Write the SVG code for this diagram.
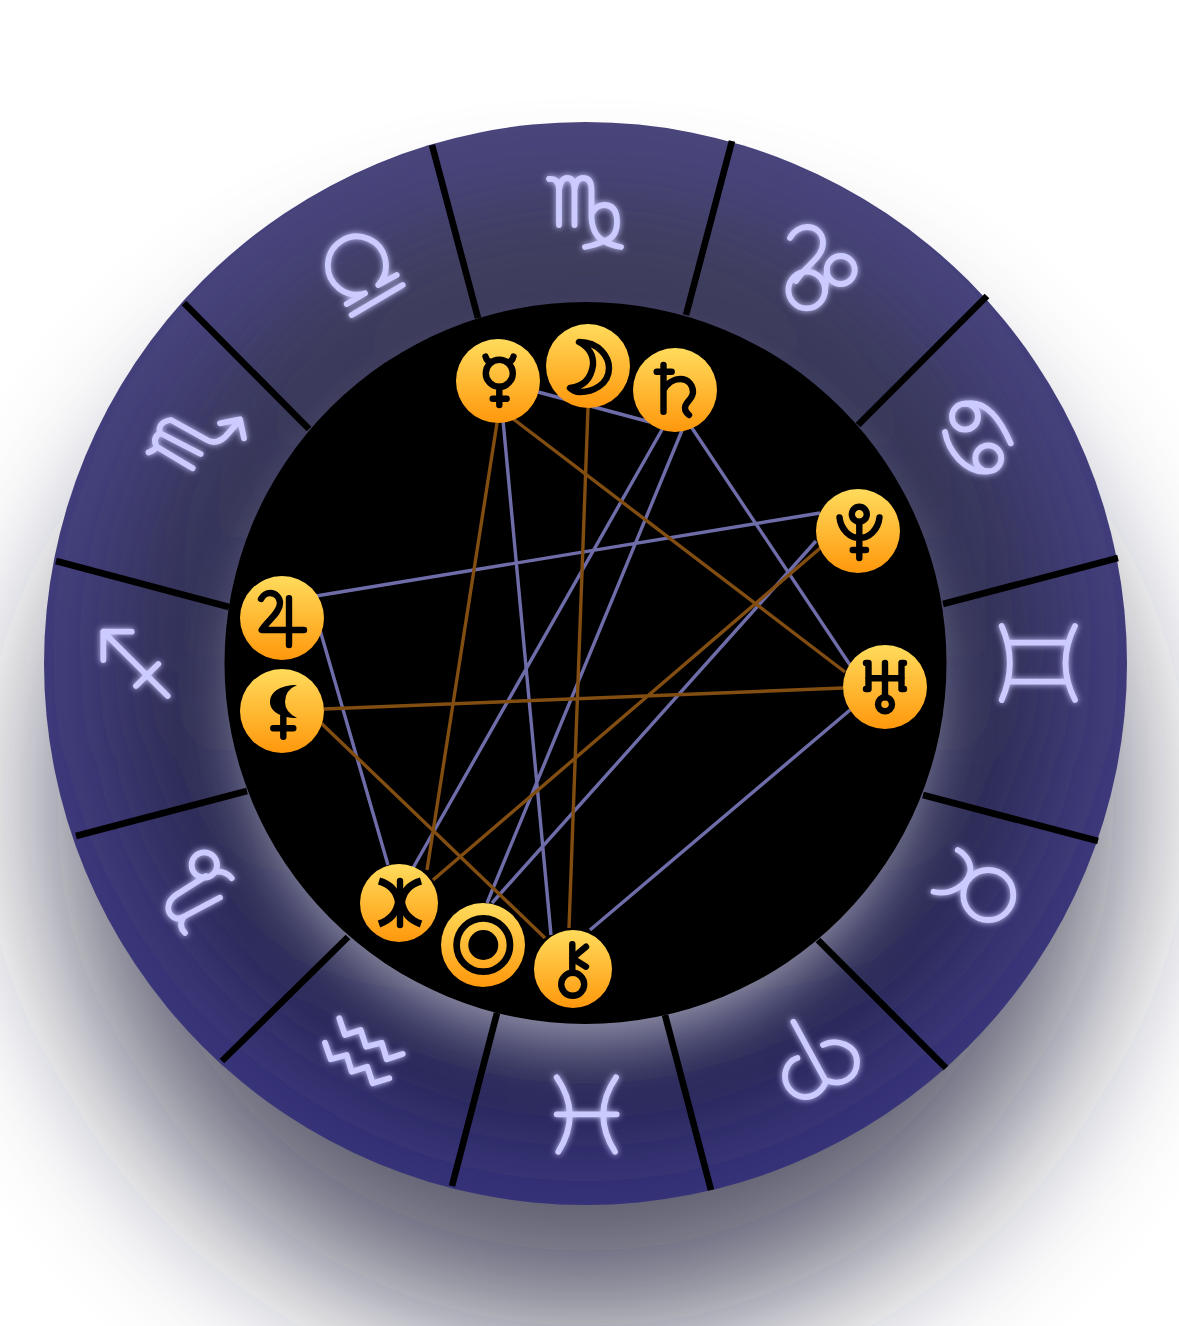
<svg xmlns="http://www.w3.org/2000/svg" width="1179" height="1326" viewBox="0 0 1179 1326">
<style>
.sign{fill:none;stroke:#cbcbff;stroke-width:5.8;stroke-linecap:round;stroke-linejoin:round}
.planet{fill:url(#orb)}
.g{fill:none;stroke:#000;stroke-width:6.4;stroke-linecap:round;stroke-linejoin:round}
.div{stroke:#000;stroke-width:6.6;fill:none}
.b{stroke:#6f6da9;stroke-width:3.4}
.o{stroke:#824d10;stroke-width:3.4}
</style>
<defs>
<linearGradient id="ringG" x1="0" y1="0" x2="0" y2="1"><stop offset="0" stop-color="#4a467e"/><stop offset="1" stop-color="#38347a"/></linearGradient>
<linearGradient id="shade" x1="0" y1="0" x2="0" y2="1"><stop offset="0" stop-color="#3f3f58"/><stop offset="1" stop-color="#20204a"/></linearGradient>
<linearGradient id="orb" x1="0" y1="0" x2="0" y2="1"><stop offset="0" stop-color="#ffdb5c"/><stop offset="1" stop-color="#ff980c"/></linearGradient>
<filter id="shadow" x="-30%" y="-30%" width="160%" height="160%"><feGaussianBlur stdDeviation="80"/></filter>
<filter id="b35" x="-30%" y="-30%" width="160%" height="160%"><feGaussianBlur stdDeviation="44"/></filter>
<filter id="b28" x="-30%" y="-30%" width="160%" height="160%"><feGaussianBlur stdDeviation="34"/></filter>
<filter id="glow" x="-40%" y="-40%" width="180%" height="180%"><feGaussianBlur in="SourceGraphic" stdDeviation="3.4" result="a"/><feMerge><feMergeNode in="a"/><feMergeNode in="SourceGraphic"/></feMerge></filter>
<clipPath id="outer"><circle cx="585.5" cy="663.5" r="541.5"/></clipPath>
</defs>
<circle id="disc-shadow" cx="585.5" cy="800" r="530" fill="#1e1e38" opacity=".72" filter="url(#shadow)"/>
<g id="wheel">
<circle cx="585.5" cy="663.5" r="541.5" fill="url(#ringG)"/>
<g clip-path="url(#outer)">
<circle cx="585.5" cy="663.5" r="470" fill="url(#shade)" opacity=".85" filter="url(#b35)"/>
<circle cx="585.5" cy="703" r="340" fill="#fff" opacity=".58" filter="url(#b28)"/>
</g>
<circle cx="585.5" cy="663" r="361" fill="#000"/>
</g>
<g id="dividers" class="div">
<path d="M432 145L478 318M732 141L686 315M987 296L858 425M1118 558L943 604M1098 841L923 795M946 1068L818 940M711 1190L665 1015M452 1186L497 1013M222 1061L348 937M76 836L247 791M56 561L229 607M184 303L309 429"/>
</g>
<g id="connectors" fill="none">
<path class="b" d="M538 392L650 422M503 420L551 935M663 428L413 868M683 428L487 903M690 425L850 665M820 513L316 596M816 541L492 903M850 710L590 930M320 630L388 865"/>
<path class="o" d="M497 423L427 870M588 408L569 928M512 418L845 672M324 709L843 688M320 722L545 938M433 880L832 538"/>
</g>
<g id="sign-virgo" filter="url(#glow)"><path class="sign" d="M549 179Q559 178 559 190V225M559 190Q561 178 567 178Q574.5 178 574.5 190V225M574.5 190Q576 178 583 178Q591.5 178 591.5 190V218Q593 236 604 241Q610 245 621 247M591.5 214Q596 205 604 205Q617 205 617 222Q617 238 604 241Q596 245 585 247"/></g>
<g id="sign-leo" filter="url(#glow)"><path class="sign" d="M790 238C794 230 802 227 807 227C816 227 823 233 823 243C823 258 806 265 796 281M825 292Q826 280 827 270"/><circle class="sign" cx="806.7" cy="290" r="18.3"/><circle class="sign" cx="840.7" cy="270" r="14"/></g>
<g id="sign-cancer" filter="url(#glow)"><circle class="sign" cx="965" cy="416.7" r="13"/><circle class="sign" cx="988.3" cy="458.3" r="13"/><path class="sign" d="M965 403.7Q991 398 1010.7 443.3M945 432C948 450 965 474 988 471.3"/></g>
<g id="sign-gemini" filter="url(#glow)"><path class="sign" d="M1001.7 626Q1018 663 1001.7 700M1075 626Q1056 663 1075 700M1008 642.7H1067M1008 681.7H1067"/></g>
<g id="sign-taurus" filter="url(#glow)"><circle class="sign" cx="988.3" cy="895" r="25"/><path class="sign" d="M957.7 850C967 855 972 865 970 873C967 885 950 896 933.5 891.7"/></g>
<g id="sign-aries" filter="url(#glow)"><path class="sign" d="M793.3 1021.7L826 1081.7M823 1045C836 1038 857 1045 857 1062C857 1078 842 1086 828 1081M797.5 1058C790 1060 785 1068 785 1076C785 1088 795 1097 805 1097C815 1097 823 1090 826 1081"/></g>
<g id="sign-pisces" filter="url(#glow)"><path class="sign" d="M556.7 1114.3H616.7M556.7 1077.3Q582 1114 558.3 1151.7M616 1077.3Q591 1114 615 1151.7"/></g>
<g id="sign-aquarius" filter="url(#glow)"><path class="sign" d="M339.3 1018.3L345 1035L360.7 1030L366 1046.7L381.7 1042.7L386.7 1059.3L402.7 1054M325 1042.7L330.7 1059.3L346.7 1055L351.7 1071.7L367.3 1066.7L372.7 1083.3L389.3 1078.3"/></g>
<g id="sign-capricorn" filter="url(#glow)"><circle class="sign" cx="204.3" cy="865" r="12.7"/><path class="sign" d="M206 876L176 895C166 902 167 912 172 916Q177 921 185 916L220 897.5M216.7 871.7Q226 871 231.7 878.3M183 918Q178 926 185 933"/></g>
<g id="sign-sagittarius" filter="url(#glow)"><path class="sign" d="M103.3 631.7L167.7 696M103.3 631.7H131.7M103.3 631.7V660M136 686L158.3 664"/></g>
<g id="sign-scorpio" filter="url(#glow)"><path class="sign" d="M148.5 452.5Q155 450 156.7 446.7L192.7 468.3M156.7 446.7Q152 438 160 433L200.7 454M160 434Q157 422 171 420L207 440Q216 445 225 437L240 420M220 423.3L240 419.3L244 438.3"/></g>
<g id="sign-libra" filter="url(#glow)"><path class="sign" d="M365 293.3A29 29 0 1 1 378.3 285M378.3 285L396.7 275M346.7 304L365 293.3M351.7 315L402.7 285"/></g>
<g id="mercury"><circle class="planet" cx="498" cy="381" r="42"/><circle class="g" cx="499.3" cy="373.3" r="13.5"/><path class="g" d="M485.5 356.5Q487 362 491 362M513.5 356.5Q512 362 508 362M499.3 387V405M492.7 398.7H506.7"/></g>
<g id="moon"><circle class="planet" cx="588" cy="366" r="42"/><path class="g" d="M579 342C600 342 609 358 609 368C609 385 592 392 580 392Q574 392 570 388Q590 386 593 365Q594 350 579 342Z"/></g>
<g id="saturn"><circle class="planet" cx="675" cy="390" r="42"/><path class="g" d="M656.7 371.7H671.7M663.5 365V411.7M663.5 390C668 382 675 379 680 379C689 379 693 386 693 392C693 399 685 402 685 408Q685 412 689 415"/></g>
<g id="pluto"><circle class="planet" cx="858" cy="531" r="42"/><circle class="g" cx="859.3" cy="514.3" r="7.5"/><path class="g" d="M839.5 517.5C841 530 850 538 859.5 538C869 538 878 530 879.5 517.5M859.3 522V558M852.7 550H866"/></g>
<g id="uranus"><circle class="planet" cx="885" cy="687" r="42"/><circle class="g" cx="885" cy="704.3" r="7"/><path class="g" d="M885 663V697M868.3 678.3H901.7M866 663H868.5V689H866M904 663H901.5V689H904"/></g>
<g id="jupiter"><circle class="planet" cx="282" cy="618" r="42"/><path class="g" d="M261 599C263 595 267 593 270 593C276 593 280 598 280 603C280 613 268 620 261.7 630H304M289 598.3V645"/></g>
<g id="lilith"><circle class="planet" cx="282" cy="711" r="42"/><path d="M297 685C280 685 270 692 270 702C270 712 282 718 297 718Q285 712 285 702Q285 690 297 685Z"/><path class="g" d="M283.3 716V736.7M273.3 728.3H293.3"/></g>
<g id="neptune"><circle class="planet" cx="399" cy="903" r="39"/><path class="g" style="stroke-width:7.2;stroke-linecap:butt" d="M379 881Q396 886 398.5 902Q396 918 379 924M421 881Q404 886 401.5 902Q404 918 421 924"/><path class="g" d="M400 881V925"/></g>
<g id="sun"><circle class="planet" cx="483" cy="945" r="42"/><circle class="g" style="stroke-width:6.7" cx="483.3" cy="945" r="26.7"/><circle cx="483.3" cy="945" r="15"/></g>
<g id="chiron"><circle class="planet" cx="573" cy="969" r="39"/><circle class="g" cx="572.7" cy="984.3" r="11.5"/><path class="g" d="M572.3 944.3V971.7M586 946.7L572.3 958.3L586 966.7"/></g>
</svg>
